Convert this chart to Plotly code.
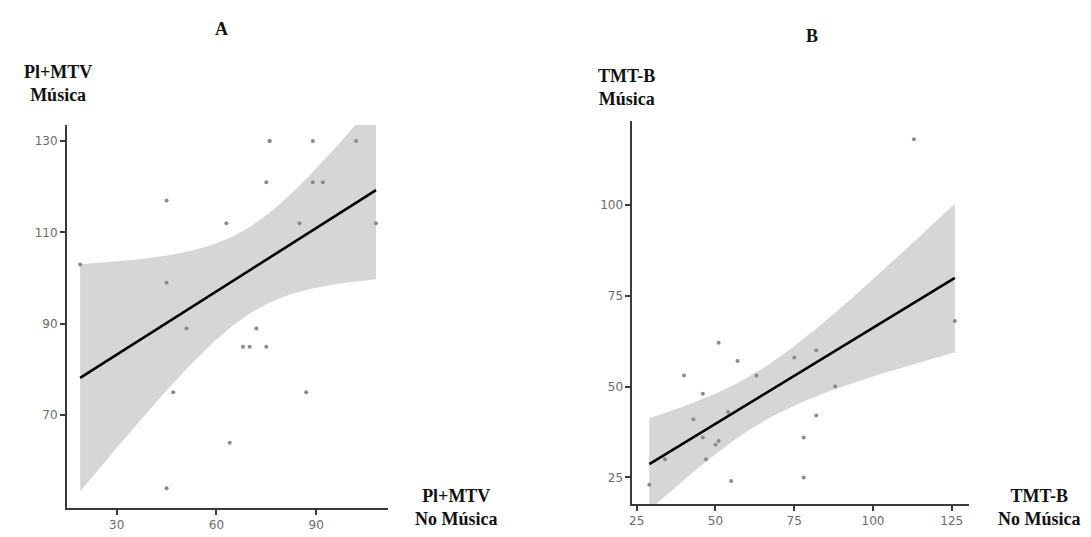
import math
import numpy as np
import plotly.graph_objects as go

# ---- data ----
a_x = [19, 45, 45, 51, 63, 72, 68, 70, 75, 75, 76, 76, 89, 102, 89, 92, 85, 108, 47, 87, 64, 45]
a_y = [103, 117, 99, 89, 112, 89, 85, 85, 85, 121, 130, 130, 130, 130, 121, 121, 112, 112, 75, 75, 64, 54]

b_x = [113, 126, 51, 57, 40, 63, 75, 82, 46, 88, 43, 82, 54, 46, 50, 51, 78, 47, 34, 55, 78, 29]
b_y = [118, 68, 62, 57, 53, 53, 58, 60, 48, 50, 41, 42, 43, 36, 34, 35, 36, 30, 30, 24, 25, 23]

a_xticks = [30, 60, 90]
a_yticks = [70, 90, 110, 130]
b_xticks = [25, 50, 75, 100, 125]
b_yticks = [25, 50, 75, 100]


def t_quantile(p, df):
    # numeric inverse of Student t CDF (bisection on integrated pdf)
    c = math.gamma((df + 1) / 2) / (math.sqrt(df * math.pi) * math.gamma(df / 2))

    def cdf(t):
        n = 2000
        xs = np.linspace(0, t, n + 1)
        f = c * (1 + xs ** 2 / df) ** (-(df + 1) / 2)
        return 0.5 + np.trapezoid(f, xs)

    lo, hi = 0.0, 20.0
    for _ in range(60):
        mid = (lo + hi) / 2
        if cdf(mid) < p:
            lo = mid
        else:
            hi = mid
    return (lo + hi) / 2


def lm_band(x, y, n=80):
    x = np.asarray(x, float)
    y = np.asarray(y, float)
    b1, b0 = np.polyfit(x, y, 1)
    res = y - (b0 + b1 * x)
    df = len(x) - 2
    s = math.sqrt((res ** 2).sum() / df)
    sxx = ((x - x.mean()) ** 2).sum()
    gx = np.linspace(x.min(), x.max(), n)
    gy = b0 + b1 * gx
    se = s * np.sqrt(1 / len(x) + (gx - x.mean()) ** 2 / sxx)
    t = t_quantile(0.975, df)
    return gx, gy, gy - t * se, gy + t * se


fig = go.Figure()

for (xs, ys, xa, ya) in [(a_x, a_y, "x", "y"), (b_x, b_y, "x2", "y2")]:
    gx, gy, lo, hi = lm_band(xs, ys)
    fig.add_trace(go.Scatter(x=np.concatenate([gx, gx[::-1]]),
                             y=np.concatenate([hi, lo[::-1]]),
                             fill="toself", fillcolor="#d6d6d6",
                             line=dict(width=0), mode="lines",
                             hoverinfo="skip", showlegend=False,
                             xaxis=xa, yaxis=ya))
    fig.add_trace(go.Scatter(x=xs, y=ys, mode="markers",
                             marker=dict(size=4, color="#8a8a8a"),
                             showlegend=False, xaxis=xa, yaxis=ya))
    fig.add_trace(go.Scatter(x=gx, y=gy, mode="lines",
                             line=dict(color="black", width=2.6),
                             showlegend=False, xaxis=xa, yaxis=ya))

W, H = 1091, 537
axis_common = dict(showgrid=False, zeroline=False, showline=True,
                   linecolor="#3a3a3a", linewidth=1.6,
                   ticks="outside", ticklen=5, tickwidth=2, tickcolor="#3a3a3a",
                   tickfont=dict(family="DejaVu Sans", size=12, color="#6a6a6a"))

fig.update_layout(
    width=W, height=H,
    margin=dict(l=0, r=0, t=0, b=0),
    paper_bgcolor="white", plot_bgcolor="white",
    xaxis=dict(domain=[56 / W, 378 / W], range=[15, 111.6], tickvals=a_xticks,
               anchor="y", **axis_common),
    yaxis=dict(domain=[1 - 500 / H, 1 - 117 / H], range=[49.7, 133.5], tickvals=a_yticks,
               anchor="x", **axis_common),
    xaxis2=dict(domain=[623 / W, 961 / W], range=[23.6, 130.6], tickvals=b_xticks,
                anchor="y2", **axis_common),
    yaxis2=dict(domain=[1 - 496 / H, 1 - 113 / H], range=[17.7, 123], tickvals=b_yticks,
                anchor="x2", **axis_common),
)

serif = dict(family="Liberation Serif, Times New Roman, DejaVu Serif, serif",
             size=18, color="#111111", weight="bold")


def label(text, x, y):
    fig.add_annotation(text=text, x=x / W, y=1 - y / H, xref="paper", yref="paper",
                       showarrow=False, font=serif, align="center",
                       xanchor="center", yanchor="middle")


label("A", 211, 21)
label("B", 803, 28)
label("Pl+MTV<br>Música", 47, 76)
label("TMT-B<br>Música", 617, 79)
label("Pl+MTV<br>No Música", 447, 499)
label("TMT-B<br>No Música", 1031, 499)

fig.write_html("out.html")
